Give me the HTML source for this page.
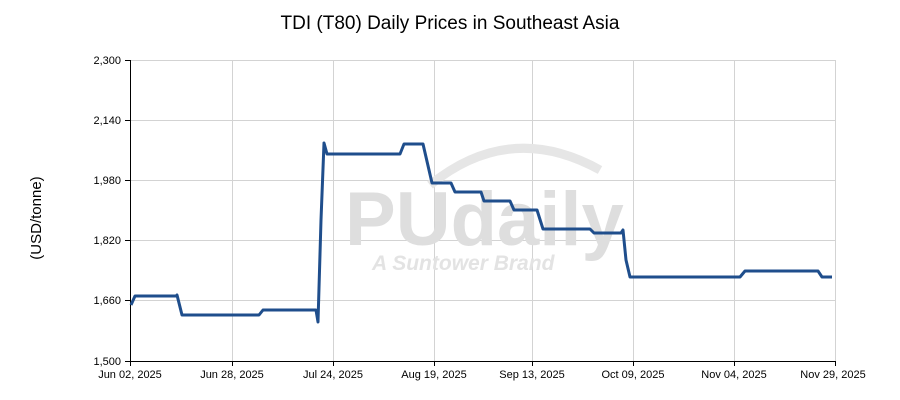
<!DOCTYPE html>
<html><head><meta charset="utf-8"><style>
html,body{margin:0;padding:0;background:#fff;}
svg{display:block;font-family:"Liberation Sans",Arial,sans-serif;}
</style></head><body>
<svg width="900" height="400" viewBox="0 0 900 400">
<rect width="900" height="400" fill="#fff"/>
<text x="450" y="29" text-anchor="middle" font-size="19" fill="#000">TDI (T80) Daily Prices in Southeast Asia</text>
<g stroke="#d3d3d3" stroke-width="1">
<line x1="130" y1="60.5" x2="836" y2="60.5"/><line x1="130" y1="120.5" x2="836" y2="120.5"/>
<line x1="130" y1="180.5" x2="836" y2="180.5"/><line x1="130" y1="240.5" x2="836" y2="240.5"/>
<line x1="130" y1="300.5" x2="836" y2="300.5"/>
<line x1="232.5" y1="60" x2="232.5" y2="361"/><line x1="333.5" y1="60" x2="333.5" y2="361"/>
<line x1="434.5" y1="60" x2="434.5" y2="361"/><line x1="532.5" y1="60" x2="532.5" y2="361"/>
<line x1="633.5" y1="60" x2="633.5" y2="361"/><line x1="734.5" y1="60" x2="734.5" y2="361"/>
<line x1="835.5" y1="60" x2="835.5" y2="361"/>
</g>
<!-- watermark -->
<g fill="#e0e0e0">
<path d="M430 185 Q510 120 600 170" stroke="#e6e6e6" stroke-width="9" fill="none"/>
<text x="345" y="245" font-size="76" font-weight="bold" fill="#dedede">PUdaily</text>
<text x="372" y="270" font-size="21" font-weight="bold" font-style="italic" fill="#e3e3e3">A Suntower Brand</text>
</g>
<g stroke="#000" stroke-width="1">
<line x1="130.5" y1="60" x2="130.5" y2="361"/>
<line x1="130" y1="361.5" x2="836" y2="361.5"/>
<line x1="125" y1="60.5" x2="130" y2="60.5"/><line x1="125" y1="120.5" x2="130" y2="120.5"/>
<line x1="125" y1="180.5" x2="130" y2="180.5"/><line x1="125" y1="240.5" x2="130" y2="240.5"/>
<line x1="125" y1="300.5" x2="130" y2="300.5"/><line x1="125" y1="361.5" x2="130" y2="361.5"/>
<line x1="130.5" y1="361" x2="130.5" y2="366"/><line x1="232.5" y1="361" x2="232.5" y2="366"/>
<line x1="333.5" y1="361" x2="333.5" y2="366"/><line x1="434.5" y1="361" x2="434.5" y2="366"/>
<line x1="532.5" y1="361" x2="532.5" y2="366"/><line x1="633.5" y1="361" x2="633.5" y2="366"/>
<line x1="734.5" y1="361" x2="734.5" y2="366"/><line x1="835.5" y1="361" x2="835.5" y2="366"/>
</g>
<g font-size="11" fill="#000" text-anchor="end">
<text x="121" y="64">2,300</text><text x="121" y="124">2,140</text><text x="121" y="184">1,980</text>
<text x="121" y="244">1,820</text><text x="121" y="304">1,660</text><text x="121" y="365">1,500</text>
</g>
<g font-size="11" fill="#000" text-anchor="middle">
<text x="130" y="378">Jun 02, 2025</text><text x="232" y="378">Jun 28, 2025</text>
<text x="333" y="378">Jul 24, 2025</text><text x="434" y="378">Aug 19, 2025</text>
<text x="532" y="378">Sep 13, 2025</text><text x="633" y="378">Oct 09, 2025</text>
<text x="734" y="378">Nov 04, 2025</text><text x="833" y="378">Nov 29, 2025</text>
</g>
<text transform="translate(41,218) rotate(-90)" text-anchor="middle" font-size="15" fill="#000">(USD/tonne)</text>
<polyline fill="none" stroke="#1f4e8c" stroke-width="3" stroke-linejoin="round" points="
131,305 135,296 176,296 177,295 182,315 259,315 263,310 316,310 318,322 321,220 324,143 327,154 400,154 404,144 423,144 432,183 451,183 455,192 481,192 484,201 510,201 514,210 537,210 543,229 590,229 594,233 621,233 623,230 626,260 630,277 740,277 745,271 818,271 822,277 832,277"/>
</svg>
</body></html>
